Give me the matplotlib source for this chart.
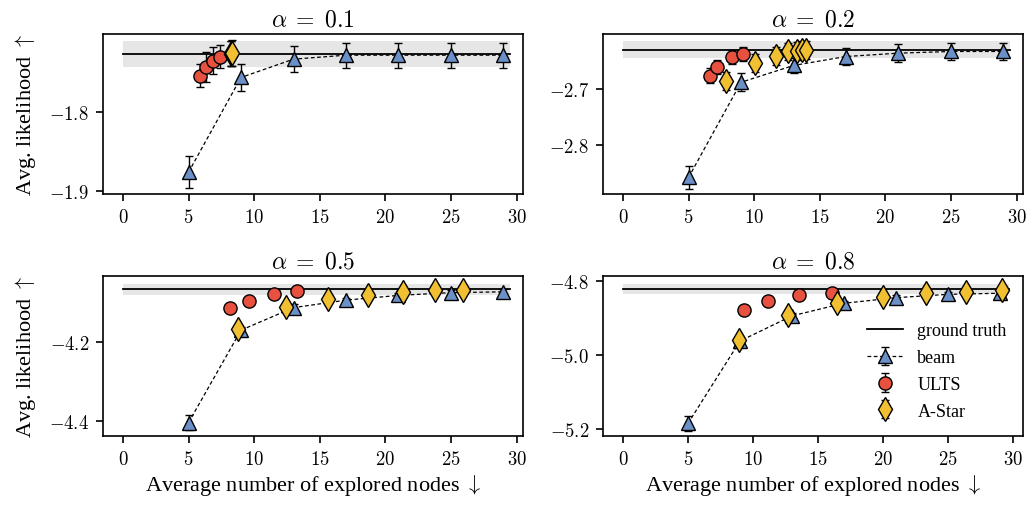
import numpy as np
import matplotlib.pyplot as plt
from matplotlib.ticker import FuncFormatter

plt.rcParams["font.family"] = "serif"
plt.rcParams["font.serif"] = ["Liberation Serif"]
plt.rcParams["mathtext.fontset"] = "cm"

alphas = [0.1, 0.2, 0.5, 0.8]

# ground truth mean +- std
gt_mean = [-1.7275, -2.630, -4.0666, -4.8205]
gt_std = [0.0163, 0.0155, 0.0135, 0.0135]
gt_end = [29.5, 29.5, 29.5, 29.75]

beam_nodes = [5, 9, 13, 17, 21, 25, 29]
beam_ll = [
    [-1.876, -1.757, -1.734, -1.729, -1.729, -1.729, -1.729],
    [-2.858, -2.688, -2.658, -2.642, -2.636, -2.633, -2.633],
    [-4.404, -4.170, -4.113, -4.094, -4.082, -4.075, -4.073],
    [-5.184, -4.962, -4.894, -4.860, -4.845, -4.836, -4.833],
]
beam_err = [
    [0.020, 0.017, 0.016, 0.0157, 0.0157, 0.0157, 0.0157],
    [0.021, 0.016, 0.013, 0.016, 0.016, 0.0155, 0.0155],
    [0.019, 0.008, 0.008, 0.006, 0.006, 0.006, 0.006],
    [0.020, 0.008, 0.008, 0.006, 0.006, 0.006, 0.006],
]

ults_nodes = [
    [5.87, 6.33, 6.83, 7.39],
    [6.63, 7.14, 8.29, 9.12],
    [8.16, 9.60, 11.53, 13.29],
    [9.31, 11.19, 13.57, 16.11],
]
ults_ll = [
    [-1.755, -1.744, -1.736, -1.731],
    [-2.676, -2.661, -2.643, -2.6375],
    [-4.115, -4.096, -4.079, -4.072],
    [-4.878, -4.854, -4.8385, -4.8313],
]
ults_err = [
    [0.0146, 0.019, 0.017, 0.0147],
    [0.013, 0.013, 0.012, 0.012],
    [0.005, 0.005, 0.005, 0.005],
    [0.005, 0.005, 0.005, 0.005],
]

astar_nodes = [
    [8.20, 8.26, 8.32],
    [7.83, 10.06, 11.64, 12.60, 13.24, 13.62, 13.95],
    [8.74, 12.40, 15.65, 18.65, 21.32, 23.78, 25.89],
    [8.93, 12.72, 16.45, 20.04, 23.33, 26.38, 29.20],
]
astar_ll = [
    [-1.727, -1.7268, -1.7265],
    [-2.686, -2.654, -2.6405, -2.633, -2.6316, -2.631, -2.6298],
    [-4.168, -4.111, -4.090, -4.081, -4.0724, -4.069, -4.0684],
    [-4.960, -4.8916, -4.858, -4.842, -4.833, -4.8286, -4.825],
]
astar_err = [
    [0.016, 0.016, 0.016],
    [0.016, 0.016, 0.016, 0.016, 0.016, 0.016, 0.016],
    [0.006, 0.006, 0.006, 0.006, 0.006, 0.006, 0.006],
    [0.006, 0.006, 0.006, 0.006, 0.006, 0.006, 0.006],
]

y_ticks = [[-1.8, -1.9], [-2.7, -2.8], [-4.2, -4.4], [-4.8, -5.0, -5.2]]
x_ticks = [0, 5, 10, 15, 20, 25, 30]
y_lims = [(-1.9034, -1.7024), (-2.8875, -2.6018), (-4.438, -4.0329), (-5.2178, -4.7865)]
x_lims = [(-1.52, 30.49), (-1.52, 30.49), (-1.52, 30.49), (-1.54, 30.79)]

c_beam = "#6b8fc7"
c_ults = "#e8513f"
c_astar = "#f0bf32"

# tick numbers in math font (Computer Modern digits, long minus)
math_x = FuncFormatter(lambda v, p: r"$%d$" % round(v))
math_y = FuncFormatter(lambda v, p: r"$%.1f$" % v)

W, H = 1036, 506
fig = plt.figure(figsize=(W / 100, H / 100), dpi=100)
boxes = [(103, 35), (603, 35), (103, 277), (603, 277)]

for i, (l, t) in enumerate(boxes):
    ax = fig.add_axes([l / W, 1 - (t + 160) / H, 420 / W, 160 / H])
    ax.fill_between([0, gt_end[i]], gt_mean[i] - gt_std[i], gt_mean[i] + gt_std[i],
                    color="#e6e6e6", lw=0, zorder=1)
    ax.plot([0, gt_end[i]], [gt_mean[i]] * 2, color="black", lw=1.3, zorder=2,
            label="ground truth")
    ax.errorbar(beam_nodes, beam_ll[i], yerr=beam_err[i], fmt="^", ls=(0, (3, 2)),
                color="black", lw=0.9, mfc=c_beam, mec="black", mew=1, ms=10,
                ecolor="black", elinewidth=1, capsize=3, zorder=3, label="beam")
    ax.errorbar(ults_nodes[i], ults_ll[i], yerr=ults_err[i], fmt="o", mfc=c_ults,
                mec="black", mew=1, ms=9.5, ecolor="black", elinewidth=1, capsize=3,
                zorder=4, label="ULTS")
    ax.errorbar(astar_nodes[i], astar_ll[i], yerr=astar_err[i], fmt="d", mfc=c_astar,
                mec="black", mew=1, ms=12, ecolor="black", elinewidth=1, capsize=3,
                zorder=5, label="A-Star")

    ax.set_xlim(*x_lims[i])
    ax.set_ylim(*y_lims[i])
    ax.set_xticks(x_ticks)
    ax.set_yticks(y_ticks[i])
    ax.xaxis.set_major_formatter(math_x)
    ax.yaxis.set_major_formatter(math_y)
    ax.tick_params(labelsize=13.5, length=5, width=1.2, pad=5)
    for s in ax.spines.values():
        s.set_linewidth(1.2)
    ax.set_title(r"$\alpha\;=\;%s$" % alphas[i], fontsize=17, pad=6)
    if i % 2 == 0:
        ax.set_ylabel(r"Avg. likelihood $\uparrow$", fontsize=16, labelpad=8)
    if i >= 2:
        ax.set_xlabel(r"Average number of explored nodes $\downarrow$", fontsize=16,
                      labelpad=3)
    if i == 3:
        ax.legend(loc="lower right", frameon=False, fontsize=13, handlelength=2.0,
                  handletextpad=0.8, labelspacing=0.55, bbox_to_anchor=(1.0, 0.0))

fig.savefig("out.png", dpi=100)
